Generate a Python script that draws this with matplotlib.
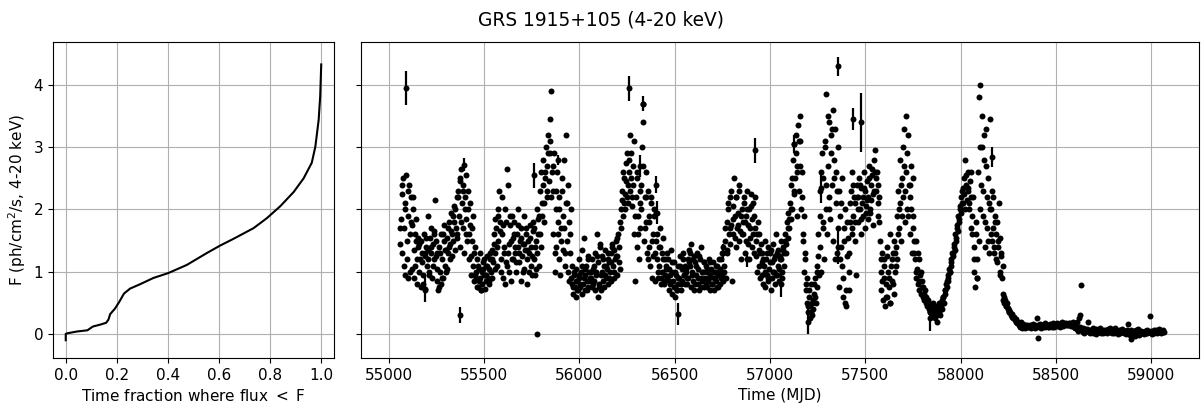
import matplotlib
matplotlib.use('Agg')
import matplotlib.pyplot as plt
import numpy as np

# --- CDF panel: fraction of time where flux < F ---
cdf_frac = [0.0, 0.0, 0.004, 0.043, 0.085, 0.106, 0.134, 0.158, 0.167, 0.174,
            0.193, 0.21, 0.228, 0.252, 0.291, 0.343, 0.402, 0.474, 0.552, 0.604,
            0.657, 0.735, 0.787, 0.839, 0.892, 0.931, 0.963, 0.977, 0.99, 0.996, 1.0]
cdf_flux = [-0.1, 0.0, 0.01, 0.04, 0.06, 0.12, 0.15, 0.18, 0.23, 0.32,
            0.41, 0.52, 0.65, 0.73, 0.80, 0.90, 0.98, 1.11, 1.30, 1.42,
            1.53, 1.70, 1.86, 2.05, 2.28, 2.50, 2.75, 3.01, 3.44, 3.82, 4.33]

# --- light curve, one row per 100 days (4-day sampling) ---
lc_mjd = [
    55060, 55064, 55068, 55072, 55076, 55080, 55084, 55088, 55092, 55096, 55100, 55104, 55108, 55112, 55116, 55120, 55124, 55128, 55132, 55136, 55140, 55144, 55148, 55152, 55156,
    55160, 55164, 55168, 55172, 55176, 55180, 55184, 55188, 55192, 55196, 55200, 55204, 55208, 55212, 55216, 55220, 55224, 55228, 55232, 55236, 55240, 55244, 55248, 55252, 55256,
    55260, 55264, 55268, 55272, 55276, 55280, 55284, 55288, 55292, 55296, 55300, 55304, 55308, 55312, 55316, 55320, 55324, 55328, 55332, 55336, 55340, 55344, 55348, 55352, 55356,
    55360, 55364, 55368, 55372, 55376, 55380, 55384, 55388, 55392, 55396, 55400, 55404, 55408, 55412, 55416, 55420, 55424, 55428, 55432, 55436, 55440, 55444, 55448, 55452, 55456,
    55460, 55464, 55468, 55472, 55476, 55480, 55484, 55488, 55492, 55496, 55500, 55504, 55508, 55512, 55516, 55520, 55524, 55528, 55532, 55536, 55540, 55544, 55548, 55552, 55556,
    55560, 55564, 55568, 55572, 55576, 55580, 55584, 55588, 55592, 55596, 55600, 55604, 55608, 55612, 55616, 55620, 55624, 55628, 55632, 55636, 55640, 55644, 55648, 55652, 55656,
    55660, 55664, 55668, 55672, 55676, 55680, 55684, 55688, 55692, 55696, 55700, 55704, 55708, 55712, 55716, 55720, 55724, 55728, 55732, 55736, 55740, 55744, 55748, 55752, 55756,
    55760, 55764, 55768, 55772, 55776, 55780, 55784, 55788, 55792, 55796, 55800, 55804, 55808, 55812, 55816, 55820, 55824, 55828, 55832, 55836, 55840, 55844, 55848, 55852, 55856,
    55860, 55864, 55868, 55872, 55876, 55880, 55884, 55888, 55892, 55896, 55900, 55904, 55908, 55912, 55916, 55920, 55924, 55928, 55932, 55936, 55940, 55944, 55948, 55952, 55956,
    55960, 55964, 55968, 55972, 55976, 55980, 55984, 55988, 55992, 55996, 56000, 56004, 56008, 56012, 56016, 56020, 56024, 56028, 56032, 56036, 56040, 56044, 56048, 56052, 56056,
    56060, 56064, 56068, 56072, 56076, 56080, 56084, 56088, 56092, 56096, 56100, 56104, 56108, 56112, 56116, 56120, 56124, 56128, 56132, 56136, 56140, 56144, 56148, 56152, 56156,
    56160, 56164, 56168, 56172, 56176, 56180, 56184, 56188, 56192, 56196, 56200, 56204, 56208, 56212, 56216, 56220, 56224, 56228, 56232, 56236, 56240, 56244, 56248, 56252, 56256,
    56260, 56264, 56268, 56272, 56276, 56280, 56284, 56288, 56292, 56296, 56300, 56304, 56308, 56312, 56316, 56320, 56324, 56328, 56332, 56336, 56340, 56344, 56348, 56352, 56356,
    56360, 56364, 56368, 56372, 56376, 56380, 56384, 56388, 56392, 56396, 56400, 56404, 56408, 56412, 56416, 56420, 56424, 56428, 56432, 56436, 56440, 56444, 56448, 56452, 56456,
    56460, 56464, 56468, 56472, 56476, 56480, 56484, 56488, 56492, 56496, 56500, 56504, 56508, 56512, 56516, 56520, 56524, 56528, 56532, 56536, 56540, 56544, 56548, 56552, 56556,
    56560, 56564, 56568, 56572, 56576, 56580, 56584, 56588, 56592, 56596, 56600, 56604, 56608, 56612, 56616, 56620, 56624, 56628, 56632, 56636, 56640, 56644, 56648, 56652, 56656,
    56660, 56664, 56668, 56672, 56676, 56680, 56684, 56688, 56692, 56696, 56700, 56704, 56708, 56712, 56716, 56720, 56724, 56728, 56732, 56736, 56740, 56744, 56748, 56752, 56756,
    56760, 56764, 56768, 56772, 56776, 56780, 56784, 56788, 56792, 56796, 56800, 56804, 56808, 56812, 56816, 56820, 56824, 56828, 56832, 56836, 56840, 56844, 56848, 56852, 56856,
    56860, 56864, 56868, 56872, 56876, 56880, 56884, 56888, 56892, 56896, 56900, 56904, 56908, 56912, 56916, 56920, 56924, 56928, 56932, 56936, 56940, 56944, 56948, 56952, 56956,
    56960, 56964, 56968, 56972, 56976, 56980, 56984, 56988, 56992, 56996, 57000, 57004, 57008, 57012, 57016, 57020, 57024, 57028, 57032, 57036, 57040, 57044, 57048, 57052, 57056,
    57060, 57064, 57068, 57072, 57076, 57080, 57084, 57088, 57092, 57096, 57100, 57104, 57108, 57112, 57116, 57120, 57124, 57128, 57132, 57136, 57140, 57144, 57148, 57152, 57156,
    57160, 57164, 57168, 57172, 57176, 57180, 57184, 57188, 57192, 57196, 57200, 57204, 57208, 57212, 57216, 57220, 57224, 57228, 57232, 57236, 57240, 57244, 57248, 57252, 57256,
    57260, 57264, 57268, 57272, 57276, 57280, 57284, 57288, 57292, 57296, 57300, 57304, 57308, 57312, 57316, 57320, 57324, 57328, 57332, 57336, 57340, 57344, 57348, 57352, 57356,
    57360, 57364, 57368, 57372, 57376, 57380, 57384, 57388, 57392, 57396, 57400, 57404, 57408, 57412, 57416, 57420, 57424, 57428, 57432, 57436, 57440, 57444, 57448, 57452, 57456,
    57460, 57464, 57468, 57472, 57476, 57480, 57484, 57488, 57492, 57496, 57500, 57504, 57508, 57512, 57516, 57520, 57524, 57528, 57532, 57536, 57540, 57544, 57548, 57552, 57556,
    57560, 57564, 57568, 57572, 57576, 57580, 57584, 57588, 57592, 57596, 57600, 57604, 57608, 57612, 57616, 57620, 57624, 57628, 57632, 57636, 57640, 57644, 57648, 57652, 57656,
    57660, 57664, 57668, 57672, 57676, 57680, 57684, 57688, 57692, 57696, 57700, 57704, 57708, 57712, 57716, 57720, 57724, 57728, 57732, 57736, 57740, 57744, 57748, 57752, 57756,
    57760, 57764, 57768, 57772, 57776, 57780, 57784, 57788, 57792, 57796, 57800, 57804, 57808, 57812, 57816, 57820, 57824, 57828, 57832, 57836, 57840, 57844, 57848, 57852, 57856,
    57860, 57864, 57868, 57872, 57876, 57880, 57884, 57888, 57892, 57896, 57900, 57904, 57908, 57912, 57916, 57920, 57924, 57928, 57932, 57936, 57940, 57944, 57948, 57952, 57956,
    57960, 57964, 57968, 57972, 57976, 57980, 57984, 57988, 57992, 57996, 58000, 58004, 58008, 58012, 58016, 58020, 58024, 58028, 58032, 58036, 58040, 58044, 58048, 58052, 58056,
    58060, 58064, 58068, 58072, 58076, 58080, 58084, 58088, 58092, 58096, 58100, 58104, 58108, 58112, 58116, 58120, 58124, 58128, 58132, 58136, 58140, 58144, 58148, 58152, 58156,
    58160, 58164, 58168, 58172, 58176, 58180, 58184, 58188, 58192, 58196, 58200, 58204, 58208, 58212, 58216, 58220, 58224, 58228, 58232, 58236, 58240, 58244, 58248, 58252, 58256,
    58260, 58264, 58268, 58272, 58276, 58280, 58284, 58288, 58292, 58296, 58300, 58304, 58308, 58312, 58316, 58320, 58324, 58328, 58332, 58336, 58340, 58344, 58348, 58352, 58356,
    58360, 58364, 58368, 58372, 58376, 58380, 58384, 58388, 58392, 58396, 58400, 58404, 58408, 58412, 58416, 58420, 58424, 58428, 58432, 58436, 58440, 58444, 58448, 58452, 58456,
    58460, 58464, 58468, 58472, 58476, 58480, 58484, 58488, 58492, 58496, 58500, 58504, 58508, 58512, 58516, 58520, 58524, 58528, 58532, 58536, 58540, 58544, 58548, 58552, 58556,
    58560, 58564, 58568, 58572, 58576, 58580, 58584, 58588, 58592, 58596, 58600, 58604, 58608, 58612, 58616, 58620, 58624, 58628, 58632, 58636, 58640, 58644, 58648, 58652, 58656,
    58660, 58664, 58668, 58672, 58676, 58680, 58684, 58688, 58692, 58696, 58700, 58704, 58708, 58712, 58716, 58720, 58724, 58728, 58732, 58736, 58740, 58744, 58748, 58752, 58756,
    58760, 58764, 58768, 58772, 58776, 58780, 58784, 58788, 58792, 58796, 58800, 58804, 58808, 58812, 58816, 58820, 58824, 58828, 58832, 58836, 58840, 58844, 58848, 58852, 58856,
    58860, 58864, 58868, 58872, 58876, 58880, 58884, 58888, 58892, 58896, 58900, 58904, 58908, 58912, 58916, 58920, 58924, 58928, 58932, 58936, 58940, 58944, 58948, 58952, 58956,
    58960, 58964, 58968, 58972, 58976, 58980, 58984, 58988, 58992, 58996, 59000, 59004, 59008, 59012, 59016, 59020, 59024, 59028, 59032, 59036, 59040, 59044, 59048, 59052, 59056,
    59060, 59064, 59068,
]
lc_flux = [
    1.45, 1.85, 2.25, 1.3, 2.5, 1.7, 0.95, 2.1, 2.55, 1.2, 1.9, 0.9, 2.4, 1.6, 2.2, 1.05, 1.75, 2.0, 1.35, 1.6, 1.1, 1.85, 0.8, 1.4, 1.55,
    1.45, 1.2, 0.75, 1.5, 1.3, 0.95, 1.6, 1.25, 0.7, 1.4, 1.1, 1.9, 1.35, 1.0, 1.55, 1.3, 1.7, 0.9, 1.45, 1.6, 1.2, 2.15, 1.5, 0.85, 1.3,
    0.7, 1.4, 1.0, 0.8, 1.6, 1.2, 0.9, 1.5, 1.75, 1.1, 1.35, 1.05, 1.55, 1.3, 1.8, 1.2, 1.45, 1.65, 1.25, 1.9, 1.5, 2.05, 1.35, 1.7, 2.2,
    1.6, 2.3, 1.9, 2.5, 1.4, 2.65, 2.1, 1.7, 2.4, 1.3, 2.2, 1.85, 2.55, 1.5, 2.0, 1.2, 1.75, 2.1, 0.95, 1.5, 1.9, 1.1, 0.85, 1.4, 1.0,
    0.9, 1.2, 0.75, 1.05, 0.85, 1.3, 0.7, 1.0, 0.8, 1.15, 0.95, 0.72, 1.1, 0.85, 1.25, 0.9, 1.05, 0.8, 1.2, 1.0, 1.35, 0.9, 1.15, 1.45, 1.05,
    1.3, 1.7, 1.1, 2.0, 1.5, 2.3, 1.8, 1.2, 2.2, 1.6, 0.9, 1.4, 2.0, 0.8, 1.15, 2.65, 1.3, 2.4, 1.0, 1.75, 0.85, 1.5, 1.9, 1.2, 1.6,
    1.8, 1.3, 1.0, 1.6, 1.4, 2.0, 1.15, 1.5, 0.85, 1.7, 1.25, 1.45, 1.9, 1.05, 1.35, 1.6, 1.2, 0.8, 1.5, 1.3, 1.75, 1.1, 1.4, 0.95, 1.65,
    1.2, 1.7, 0.95, 1.5, 2.0, 1.3, 1.85, 1.1, 2.3, 1.6, 2.6, 1.9, 2.4, 2.8, 2.1, 2.5, 3.0, 2.2, 2.7, 3.2, 2.45, 3.45, 2.9, 3.9, 2.6,
    2.3, 1.6, 2.9, 1.0, 2.0, 1.4, 2.6, 1.8, 1.2, 2.2, 0.95, 1.7, 2.5, 1.35, 1.9, 2.8, 1.1, 2.1, 3.2, 1.5, 2.4, 0.85, 1.8, 1.3, 2.0,
    1.1, 0.8, 0.65, 0.95, 0.75, 1.05, 0.6, 0.85, 0.7, 1.2, 0.9, 0.75, 1.0, 0.65, 1.35, 0.8, 1.55, 0.95, 0.7, 1.1, 0.85, 1.25, 0.75, 1.0, 0.9,
    0.9, 1.2, 0.75, 1.05, 0.85, 1.3, 0.7, 1.0, 1.6, 0.6, 1.15, 0.8, 1.45, 0.95, 0.7, 1.25, 0.85, 1.1, 0.75, 1.35, 0.9, 1.05, 1.2, 0.8, 1.15,
    1.0, 1.3, 0.85, 1.45, 1.1, 0.9, 1.35, 1.2, 1.5, 0.95, 1.25, 1.6, 1.4, 1.05, 1.7, 2.0, 2.3, 1.9, 2.1, 2.5, 2.0, 2.75, 2.2, 2.9, 2.4,
    2.6, 3.2, 2.3, 2.9, 2.05, 2.7, 2.4, 1.6, 0.85, 2.2, 1.4, 2.5, 1.9, 1.2, 2.1, 1.7, 2.4, 3.0, 3.4, 3.7, 1.5, 2.2, 1.8, 2.6, 1.3,
    2.3, 1.4, 1.9, 1.1, 2.1, 0.9, 1.6, 1.25, 2.0, 0.85, 1.5, 1.95, 1.2, 0.9, 1.4, 1.1, 1.7, 0.8, 1.3, 1.0, 1.55, 0.85, 1.2, 0.95, 1.1,
    0.9, 1.2, 0.7, 1.05, 0.8, 1.35, 0.65, 1.0, 0.85, 1.15, 0.75, 0.6, 0.95, 0.7, 1.1, 0.8, 0.9, 1.25, 0.7, 1.05, 0.85, 1.3, 0.95, 1.1, 0.8,
    1.0, 0.8, 1.2, 0.9, 1.35, 1.1, 0.75, 1.45, 1.0, 0.85, 1.25, 0.7, 1.15, 0.95, 1.3, 0.8, 1.05, 0.7, 1.2, 0.9, 1.4, 0.85, 1.0, 0.75, 1.15,
    0.9, 1.1, 0.75, 1.0, 0.85, 1.2, 0.7, 0.95, 1.05, 0.8, 1.15, 0.9, 0.7, 1.0, 0.85, 1.1, 0.75, 0.95, 1.2, 0.8, 1.05, 0.9, 1.3, 0.85, 1.4,
    1.0, 1.5, 0.9, 1.8, 1.3, 2.0, 1.6, 2.2, 1.45, 1.75, 0.85, 2.05, 1.6, 2.5, 1.9, 1.4, 2.2, 1.7, 1.95, 1.5, 2.3, 1.65, 1.2, 2.0, 1.8,
    1.6, 2.1, 1.3, 1.9, 1.5, 2.3, 1.75, 1.2, 2.0, 1.55, 2.25, 1.4, 1.85, 2.1, 1.3, 1.7, 2.2, 1.5, 1.0, 1.8, 1.35, 1.6, 0.9, 1.45, 1.15,
    1.3, 0.8, 1.1, 1.5, 0.75, 1.2, 0.95, 1.4, 0.85, 1.05, 1.3, 0.7, 1.15, 0.9, 1.45, 1.0, 0.8, 1.25, 1.6, 0.95, 1.1, 1.35, 0.85, 1.2, 1.5,
    1.2, 0.9, 1.4, 1.1, 1.3, 1.6, 1.45, 1.8, 1.55, 1.95, 1.7, 2.1, 1.85, 2.4, 2.0, 2.8, 2.25, 3.05, 2.5, 3.2, 1.9, 2.7, 3.35, 2.3, 3.5,
    3.1, 2.0, 2.6, 1.5, 1.9, 1.0, 1.3, 0.7, 0.9, 0.5, 0.35, 0.6, 0.25, 0.45, 0.8, 0.3, 0.55, 0.4, 0.65, 0.9, 0.5, 1.1, 0.75, 1.25, 0.95,
    1.4, 2.3, 1.0, 2.9, 1.7, 2.5, 1.2, 3.0, 2.0, 3.85, 1.6, 2.7, 2.2, 3.4, 1.85, 3.2, 2.4, 3.6, 1.5, 2.8, 3.3, 2.1, 2.6, 1.3, 3.0,
    2.3, 0.75, 1.9, 1.4, 2.5, 1.1, 0.6, 1.7, 0.5, 2.0, 0.45, 1.25, 1.55, 0.7, 1.0, 1.8, 2.3, 1.6, 2.6, 1.9, 2.2, 1.5, 2.1, 0.95, 2.4,
    2.2, 1.8, 2.5, 2.0, 1.6, 2.35, 2.1, 1.9, 2.6, 1.7, 2.3, 2.05, 2.45, 1.85, 2.2, 2.7, 1.95, 2.4, 2.15, 2.55, 1.75, 2.8, 2.3, 2.95, 2.5,
    2.6, 2.1, 2.4, 1.8, 1.5, 1.0, 0.7, 1.3, 0.55, 0.9, 1.2, 0.45, 0.8, 1.4, 0.6, 1.0, 0.75, 1.6, 0.5, 1.1, 0.85, 1.3, 0.65, 1.5, 1.0,
    1.4, 1.9, 1.2, 2.3, 1.7, 2.1, 2.8, 1.5, 2.5, 3.0, 2.2, 3.3, 1.8, 3.5, 2.6, 2.0, 3.2, 2.4, 1.6, 2.2, 2.7, 1.3, 1.9, 2.5, 1.5,
    1.2, 0.9, 1.5, 1.05, 0.8, 1.2, 0.7, 0.95, 0.65, 0.85, 0.6, 0.75, 0.55, 0.7, 0.5, 0.6, 0.45, 0.55, 0.4, 0.5, 0.35, 0.45, 0.3, 0.4, 0.5,
    0.35, 0.25, 0.45, 0.3, 0.2, 0.4, 0.35, 0.5, 0.3, 0.45, 0.55, 0.4, 0.6, 0.5, 0.7, 0.65, 0.8, 0.75, 0.95, 0.85, 1.05, 1.0, 1.2, 1.1, 1.3,
    1.25, 1.45, 1.35, 1.6, 1.5, 1.75, 1.65, 1.9, 1.8, 2.05, 1.95, 2.2, 2.3, 2.1, 2.5, 2.25, 2.8, 2.4, 2.15, 2.6, 2.35, 2.0, 2.45, 2.2, 1.7,
    1.6, 2.2, 1.0, 1.4, 0.75, 1.8, 1.2, 0.9, 2.6, 1.5, 3.0, 4.0, 2.4, 3.5, 1.9, 3.2, 2.8, 1.4, 3.3, 2.2, 1.7, 2.5, 1.3, 2.0, 3.45,
    2.0, 1.5, 2.2, 1.7, 1.3, 1.9, 1.6, 1.2, 1.8, 1.4, 2.1, 1.0, 1.55, 1.25, 0.9, 1.1, 0.65, 0.6, 0.55, 0.5, 0.45, 0.5, 0.4, 0.35, 0.38,
    0.35, 0.3, 0.32, 0.28, 0.25, 0.27, 0.22, 0.2, 0.24, 0.18, 0.2, 0.15, 0.17, 0.12, 0.19, 0.14, 0.1, 0.16, 0.13, 0.09, 0.15, 0.12, 0.14, 0.11, 0.13,
    0.12, 0.15, 0.1, 0.14, 0.11, 0.16, 0.13, 0.09, 0.15, 0.12, 0.25, -0.06, 0.14, 0.11, 0.16, 0.13, 0.1, 0.15, 0.12, 0.14, 0.17, 0.11, 0.13, 0.15, 0.12,
    0.14, 0.12, 0.16, 0.13, 0.15, 0.11, 0.17, 0.14, 0.12, 0.16, 0.15, 0.13, 0.18, 0.14, 0.16, 0.12, 0.17, 0.15, 0.19, 0.13, 0.16, 0.18, 0.14, 0.17, 0.15,
    0.16, 0.14, 0.18, 0.15, 0.17, 0.13, 0.16, 0.19, 0.14, 0.12, 0.1, 0.15, 0.08, 0.2, 0.05, 0.25, 0.3, 0.12, 0.78, 0.06, 0.04, 0.1, 0.02, 0.08, 0.05,
    0.05, 0.08, 0.2, 0.03, 0.06, 0.01, 0.07, 0.04, 0.09, 0.02, 0.05, 0.06, 0.0, 0.08, 0.04, 0.07, 0.03, 0.05, 0.09, 0.02, 0.06, 0.04, 0.01, 0.07, 0.05,
    0.04, 0.06, 0.02, 0.08, 0.05, 0.03, 0.1, 0.04, 0.01, 0.07, 0.05, 0.02, 0.09, 0.06, 0.03, 0.04, 0.0, 0.07, 0.05, 0.02, 0.06, 0.08, 0.03, 0.05, 0.01,
    0.03, 0.05, 0.0, 0.07, 0.16, 0.02, 0.04, -0.02, 0.06, -0.08, 0.03, 0.01, 0.05, -0.03, 0.02, 0.06, 0.0, 0.04, 0.08, -0.01, 0.03, 0.05, 0.01, 0.04, 0.02,
    0.03, 0.0, 0.05, 0.02, 0.06, 0.01, 0.04, 0.03, 0.29, 0.02, 0.05, 0.0, 0.04, 0.06, 0.01, 0.03, 0.07, 0.02, 0.05, 0.04, 0.08, 0.03, 0.06, 0.02, 0.05,
    0.04, 0.06, 0.03,
]

# extra samples in the active state (fills the dense clouds)
lc2_mjd = [
    55062, 55070, 55078, 55086, 55094, 55102, 55110, 55118, 55126, 55134, 55142, 55150,
    55158, 55166, 55174, 55182, 55190, 55198, 55206, 55214, 55222, 55230, 55238, 55246,
    55254, 55262, 55270, 55278, 55286, 55294, 55302, 55310, 55318, 55326, 55334, 55342,
    55350, 55358, 55366, 55374, 55382, 55390, 55398, 55406, 55414, 55422, 55430, 55438,
    55446, 55454, 55462, 55470, 55478, 55486, 55494, 55502, 55510, 55518, 55526, 55534,
    55542, 55550, 55558, 55566, 55574, 55582, 55590, 55598, 55606, 55614, 55622, 55630,
    55638, 55646, 55654, 55662, 55670, 55678, 55686, 55694, 55702, 55710, 55718, 55726,
    55734, 55742, 55750, 55758, 55766, 55774, 55782, 55790, 55798, 55806, 55814, 55822,
    55830, 55838, 55846, 55854, 55862, 55870, 55878, 55886, 55894, 55902, 55910, 55918,
    55926, 55934, 55942, 55950, 55958, 55966, 55974, 55982, 55990, 55998, 56006, 56014,
    56022, 56030, 56038, 56046, 56054, 56062, 56070, 56078, 56086, 56094, 56102, 56110,
    56118, 56126, 56134, 56142, 56150, 56158, 56166, 56174, 56182, 56190, 56198, 56206,
    56214, 56222, 56230, 56238, 56246, 56254, 56262, 56270, 56278, 56286, 56294, 56302,
    56310, 56318, 56326, 56334, 56342, 56350, 56358, 56366, 56374, 56382, 56390, 56398,
    56406, 56414, 56422, 56430, 56438, 56446, 56454, 56462, 56470, 56478, 56486, 56494,
    56502, 56510, 56518, 56526, 56534, 56542, 56550, 56558, 56566, 56574, 56582, 56590,
    56598, 56606, 56614, 56622, 56630, 56638, 56646, 56654, 56662, 56670, 56678, 56686,
    56694, 56702, 56710, 56718, 56726, 56734, 56742, 56750, 56758, 56766, 56774, 56782,
    56790, 56798, 56806, 56814, 56822, 56830, 56838, 56846, 56854, 56862, 56870, 56878,
    56886, 56894, 56902, 56910, 56918, 56926, 56934, 56942, 56950, 56958, 56966, 56974,
    56982, 56990, 56998, 57006, 57014, 57022, 57030, 57038, 57046, 57054, 57062, 57070,
    57078, 57086, 57094, 57102, 57110, 57118, 57126, 57134, 57142, 57150, 57158, 57166,
    57174, 57182, 57190, 57198, 57206, 57214, 57222, 57230, 57238, 57246, 57254, 57262,
    57270, 57278, 57286, 57294, 57302, 57310, 57318, 57326, 57334, 57342, 57350, 57358,
    57366, 57374, 57382, 57390, 57398, 57406, 57414, 57422, 57430, 57438, 57446, 57454,
    57462, 57470, 57478, 57486, 57494, 57502, 57510, 57518, 57526, 57534, 57542, 57550,
    57558, 57566, 57574, 57582, 57590, 57598, 57606, 57614, 57622, 57630, 57638, 57646,
    57654, 57662, 57670, 57678, 57686, 57694, 57702, 57710, 57718, 57726, 57734, 57742,
    57750, 57758, 57766, 57774, 57782, 57790, 57798, 57806, 57814, 57822, 57830, 57838,
    57846, 57854, 57862, 57870, 57878, 57886, 57894, 57902, 57910, 57918, 57926, 57934,
    57942, 57950, 57958, 57966, 57974, 57982, 57990, 57998, 58006, 58014, 58022, 58030,
    58038, 58046, 58054, 58062, 58070, 58078, 58086, 58094, 58102, 58110, 58118, 58126,
    58134, 58142, 58150, 58158, 58166, 58174, 58182, 58190, 58198, 58206, 58214, 58222,
    58230, 58238, 58246, 58254,
]
lc2_flux = [
    1.7, 2.4, 1.1, 2.0, 1.5, 2.3, 1.0, 1.8, 2.2, 0.9, 1.5, 1.2,
    1.0, 1.5, 1.15, 0.8, 1.3, 1.55, 1.2, 0.95, 1.4, 1.1, 1.65, 1.25,
    1.05, 0.75, 1.3, 0.9, 1.6, 1.35, 1.0, 1.7, 1.4, 1.95, 1.6, 1.8,
    2.0, 1.55, 2.2, 2.45, 1.8, 2.3, 2.0, 1.6, 2.3, 1.6, 1.25, 1.7,
    1.3, 0.95, 0.75, 1.1, 0.9, 0.7, 1.05, 1.2, 0.95, 1.1, 0.85, 1.3,
    1.2, 1.6, 1.85, 1.4, 1.9, 1.65, 1.0, 1.75, 1.3, 1.8, 1.1, 1.45,
    1.9, 1.2, 1.55, 1.4, 1.15, 1.75, 1.3, 1.55, 1.0, 1.45, 1.7, 1.35,
    1.0, 1.55, 1.25, 1.8, 1.4, 1.05, 1.6, 1.9, 1.4, 2.1, 1.8, 2.6,
    2.3, 2.9, 3.1, 2.2, 2.7, 1.3, 2.3, 1.6, 2.0, 1.5, 2.3, 1.7,
    1.3, 2.1, 1.0, 1.6, 0.9, 0.75, 1.0, 0.85, 0.7, 0.95, 0.8, 1.1,
    0.9, 1.05, 0.7, 1.2, 0.85, 1.0, 0.8, 1.1, 0.95, 1.25, 0.75, 1.4,
    1.0, 1.2, 0.95, 1.1, 1.3, 0.9, 1.15, 1.4, 1.0, 1.25, 1.55, 1.15,
    1.8, 2.15, 2.6, 2.25, 2.45, 2.1, 2.8, 2.5, 2.2, 3.1, 1.9, 2.6,
    1.6, 2.3, 2.0, 2.7, 1.7, 2.2, 1.2, 1.8, 2.2, 1.5, 1.9, 1.3,
    1.6, 1.0, 1.4, 0.9, 1.2, 0.8, 1.05, 1.3, 0.85, 0.95, 1.15, 0.75,
    1.0, 0.7, 0.9, 1.1, 0.8, 1.2, 0.95, 1.05, 0.9, 1.15, 1.3, 0.95,
    1.2, 0.8, 1.1, 0.9, 1.25, 0.75, 1.0, 1.15, 0.8, 1.05, 0.9, 1.15,
    0.8, 1.0, 0.9, 1.1, 0.75, 1.0, 1.2, 0.95, 1.1, 1.7, 1.35, 2.1,
    1.7, 2.3, 1.85, 1.55, 2.2, 1.75, 2.4, 1.9, 1.6, 2.2, 1.8, 2.0,
    1.45, 1.7, 2.05, 1.6, 1.9, 1.25, 1.6, 1.1, 1.3, 0.95, 1.2, 1.0,
    1.3, 0.9, 1.15, 1.35, 1.0, 1.2, 0.95, 1.3, 1.05, 1.25, 1.0, 1.35,
    1.5, 1.3, 1.7, 1.85, 2.0, 2.5, 2.3, 2.9, 2.6, 3.1, 2.7, 2.2,
    1.6, 1.2, 0.8, 0.45, 0.7, 0.35, 0.5, 0.8, 0.6, 1.0, 1.6, 1.9,
    2.6, 1.8, 3.1, 2.4, 3.5, 2.0, 2.9, 3.3, 2.5, 1.2, 2.3, 1.7,
    1.2, 2.1, 0.9, 1.5, 0.7, 1.8, 1.3, 2.1, 1.7, 2.4, 1.8, 2.2,
    2.0, 2.4, 1.85, 2.2, 2.35, 1.95, 2.15, 2.5, 2.0, 2.65, 2.25, 2.6,
    2.3, 1.9, 2.2, 1.2, 0.85, 1.1, 0.6, 1.25, 0.9, 0.5, 1.2, 0.8,
    1.3, 1.1, 1.6, 2.0, 2.4, 1.9, 2.7, 2.3, 2.9, 1.9, 2.4, 2.0,
    1.7, 1.3, 1.0, 1.3, 0.85, 1.0, 0.75, 0.65, 0.6, 0.5, 0.45, 0.35,
    0.4, 0.3, 0.4, 0.3, 0.35, 0.45, 0.4, 0.5, 0.6, 0.7, 0.85, 0.9,
    1.0, 1.15, 1.3, 1.4, 1.55, 1.7, 1.85, 2.0, 2.1, 2.35, 2.0, 2.55,
    2.3, 2.1, 2.6, 1.9, 1.2, 1.6, 0.9, 3.8, 2.0, 3.0, 2.3, 1.8,
    2.7, 1.5, 2.1, 1.6, 2.3, 1.4, 1.8, 1.15, 1.5, 0.95, 1.3, 0.55,
    0.5, 0.45, 0.42, 0.36,
]

# points with clearly visible error bars
err_mjd = [55090, 55189, 55372, 55393, 55760, 55776, 55890, 56263, 56316, 56336, 56403, 56405,
           56520, 56756, 56880, 56919, 57060, 57128, 57200, 57270, 57355, 57359, 57433, 57480,
           57840, 58165]
err_flux = [3.95, 0.72, 0.3, 2.72, 2.55, 0.0, 2.8, 3.95, 2.7, 3.7, 2.4, 1.95,
            0.32, 1.3, 1.2, 2.95, 0.8, 3.05, 0.2, 2.35, 1.4, 4.3, 3.45, 3.4,
            0.25, 2.84]
err_size = [0.27, 0.2, 0.13, 0.1, 0.2, 0.02, 0.08, 0.2, 0.18, 0.12, 0.13, 0.18,
            0.18, 0.15, 0.12, 0.2, 0.2, 0.15, 0.2, 0.25, 0.27, 0.15, 0.18, 0.47,
            0.2, 0.16]

fig = plt.figure(figsize=(12.01, 4.07), dpi=100)
ax_cdf = fig.add_axes([0.0441, 0.1204, 0.234, 0.7764])
ax_lc = fig.add_axes([0.3006, 0.1204, 0.6977, 0.7764], sharey=ax_cdf)

ax_cdf.plot(cdf_frac, cdf_flux, color='k', lw=1.5)
ax_cdf.set_xlim(-0.05, 1.05)
ax_cdf.set_ylim(-0.385, 4.69)
ax_cdf.set_xticks([0.0, 0.2, 0.4, 0.6, 0.8, 1.0])
ax_cdf.set_yticks([0, 1, 2, 3, 4])
ax_cdf.set_xlabel(r'Time fraction where flux $<$ F', fontsize=11)
ax_cdf.set_ylabel(r'F (ph/cm$^2$/s, 4-20 keV)', fontsize=11)
ax_cdf.grid(True)

ax_lc.errorbar(lc_mjd, lc_flux, fmt='o', color='k', ms=4.3, mew=0)
ax_lc.errorbar(lc2_mjd, lc2_flux, fmt='o', color='k', ms=4.3, mew=0)
ax_lc.errorbar(err_mjd, err_flux, yerr=err_size, fmt='o', color='k',
               ms=4.3, mew=0, elinewidth=1.6, capsize=0)
ax_lc.set_xlim(54855, 59250)
ax_lc.set_xticks([55000, 55500, 56000, 56500, 57000, 57500, 58000, 58500, 59000])
ax_lc.set_xlabel('Time (MJD)', fontsize=11)
ax_lc.tick_params(labelleft=False)
ax_lc.grid(True)

for ax in (ax_cdf, ax_lc):
    ax.tick_params(labelsize=11)

fig.suptitle('GRS 1915+105 (4-20 keV)', fontsize=13.4, y=0.975)

plt.savefig('out.png', dpi=100)
plt.close()
